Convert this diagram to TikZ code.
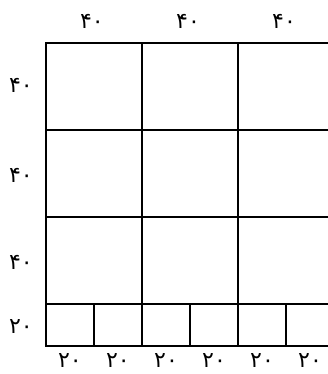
\documentclass[tikz,border=0pt]{standalone}
\usepackage{fontspec}
\newfontfamily\arabicfont[Script=Arabic]{DejaVu Sans}
\begin{document}
\begin{tikzpicture}[x=1pt,y=-1pt,
  lbl/.style={font=\arabicfont\fontsize{22}{22}\selectfont, inner sep=0pt,
    text height=11pt, text depth=0pt, anchor=base},
  gridline/.style={line width=1.1pt, black}]
\useasboundingbox (0,0) rectangle (328,374);
% outer and main grid
\draw[gridline] (334,43) -- (46,43) -- (46,346) -- (334,346);
\draw[gridline] (46,130) -- (334,130);
\draw[gridline] (46,217) -- (334,217);
\draw[gridline] (46,304) -- (334,304);
\draw[gridline] (142,43) -- (142,346);
\draw[gridline] (238,43) -- (238,346);
\foreach \x in {94,190,286} \draw[gridline] (\x,304) -- (\x,346);
% top labels
\node[lbl] (t1) at (92,29) {۴۰};
\node[lbl] (t2) at (188,29) {۴۰};
\node[lbl] (t3) at (284,29) {۴۰};
% left labels
\node[lbl] (l1) at (21,93) {۴۰};
\node[lbl] (l2) at (21,182) {۴۰};
\node[lbl] (l3) at (21,269) {۴۰};
\node[lbl] (l4) at (21,333) {۲۰};
% bottom labels
\node[lbl] (b1) at (70,367) {۲۰};
\node[lbl] (b2) at (118,367) {۲۰};
\node[lbl] (b3) at (166,367) {۲۰};
\node[lbl] (b4) at (214,367) {۲۰};
\node[lbl] (b5) at (262,367) {۲۰};
\node[lbl] (b6) at (310,367) {۲۰};
\end{tikzpicture}
\end{document}
